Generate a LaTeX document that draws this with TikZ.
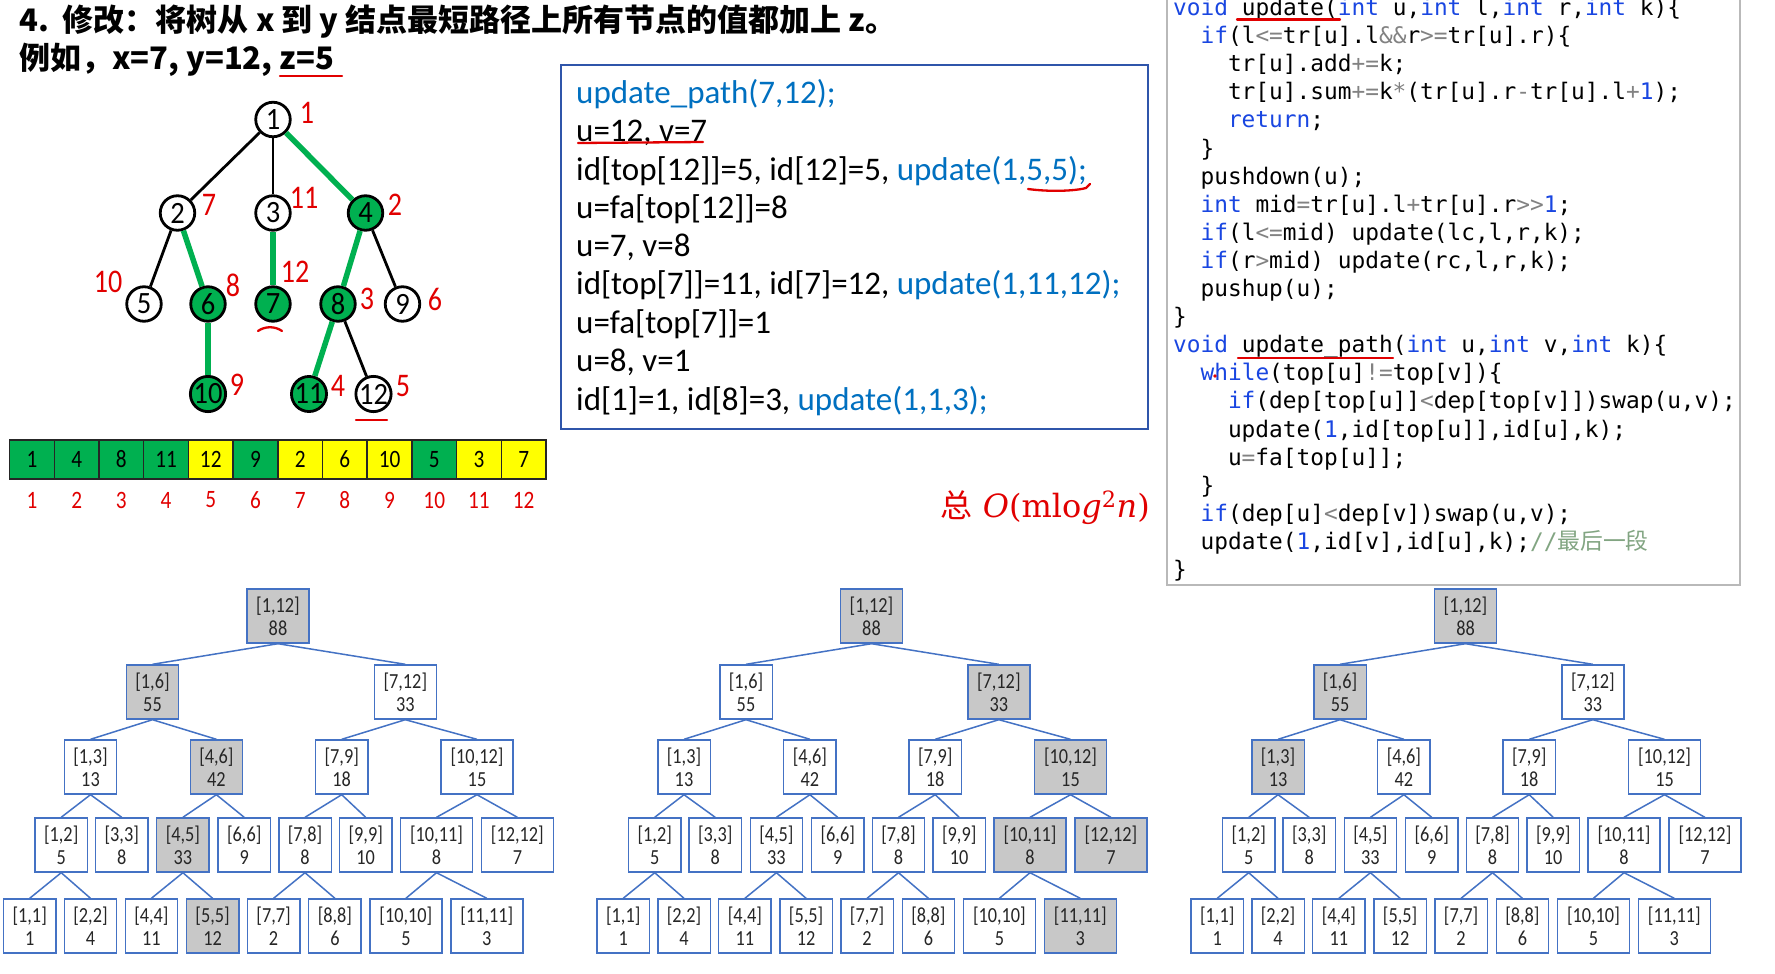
\documentclass[tikz,border=0pt]{standalone}
\usepackage{fontspec}
\newfontfamily\cjk{Noto Sans CJK SC}
\newfontfamily\carl{Carlito}
\newfontfamily\carln{Carlito}[FakeStretch=0.85]
\newfontfamily\carlm{Carlito}[FakeStretch=0.92]
\newfontfamily\codefont{DejaVu Sans Mono}
\newfontfamily\cplxfont{DejaVu Serif}
\definecolor{segblue}{RGB}{68,114,196}
\definecolor{boxblue}{RGB}{47,85,170}
\definecolor{seggray}{RGB}{200,200,200}
\definecolor{tg}{RGB}{0,176,80}
\definecolor{ty}{RGB}{255,255,0}
\definecolor{tred}{RGB}{225,0,0}
\definecolor{codeblue}{RGB}{0,112,192}
\definecolor{kwblue}{RGB}{25,70,225}
\definecolor{opgray}{RGB}{130,130,130}
\definecolor{comgreen}{RGB}{130,165,130}
\definecolor{codegray}{RGB}{185,185,185}
\newcommand\ckw[1]{\textcolor{kwblue}{#1}}
\newcommand\cop[1]{\textcolor{opgray}{#1}}
\newcommand\ccom[1]{\textcolor{comgreen}{#1}}
\newcommand\hlset[2]{\expandafter\def\csname hl@#1@#2\endcsname{}}
\hlset{a}{1-12}\hlset{a}{1-6}\hlset{a}{4-6}\hlset{a}{4-5}\hlset{a}{5-5}
\hlset{b}{1-12}\hlset{b}{7-12}\hlset{b}{10-12}\hlset{b}{10-11}\hlset{b}{12-12}\hlset{b}{11-11}
\hlset{c}{1-12}\hlset{c}{1-6}\hlset{c}{1-3}
\tikzset{
  segbox/.style={draw=segblue,line width=1.4pt,minimum height=54pt,inner sep=0pt,align=center,
    text=black!85,font=\carln\fontsize{21.5}{23}\selectfont},
  segline/.style={draw=segblue,line width=1.5pt},
  cnode/.style={circle,draw=black,line width=2.8pt,minimum size=34.5pt,inner sep=0pt,
    fill=white,font=\carlm\fontsize{31}{31}\selectfont},
  gnode/.style={cnode,fill=tg},
  tedge/.style={draw=black,line width=2.8pt},
  gedge/.style={draw=tg,line width=5.5pt},
  rlab/.style={text=tred,inner sep=0pt,font=\carln\fontsize{33}{33}\selectfont},
  cell/.style={draw=black!85,line width=1.5pt,minimum width=44.7pt,minimum height=39pt,inner sep=0pt,
    font=\carln\fontsize{25}{25}\selectfont},
  idx/.style={text=tred,inner sep=0pt,font=\carln\fontsize{25}{25}\selectfont},
  mtxt/.style={anchor=base west,inner sep=0pt,font=\carl\fontsize{33}{33}\selectfont},
  ctxt/.style={anchor=base west,inner sep=0pt,font=\codefont\fontsize{22.8}{22.8}\selectfont},
  redline/.style={draw=tred,line width=2.3pt,line cap=round},
}
\newcommand\segnd[6]{%
  \ifcsname hl@#1@#2\endcsname\def\segfill{seggray}\else\def\segfill{white}\fi
  \node[segbox,minimum width=#5pt,fill=\segfill] (#1#2) at (#3,#4) {#6};}
\newcommand\segtree[2]{%
\begin{scope}[xshift=#2pt]
\segnd{#1}{1-12}{278}{616}{62}{[1,12]\\88}
\segnd{#1}{1-6}{152.5}{692}{52.4}{[1,6]\\55}
\segnd{#1}{7-12}{405.3}{692}{62}{[7,12]\\33}
\segnd{#1}{1-3}{90.5}{767}{52.4}{[1,3]\\13}
\segnd{#1}{4-6}{216.4}{767}{52.4}{[4,6]\\42}
\segnd{#1}{7-9}{341.7}{767}{52.4}{[7,9]\\18}
\segnd{#1}{10-12}{477}{767}{72}{[10,12]\\15}
\segnd{#1}{1-2}{61.2}{845}{52.4}{[1,2]\\5}
\segnd{#1}{3-3}{121.7}{845}{52.4}{[3,3]\\8}
\segnd{#1}{4-5}{182.9}{845}{52.4}{[4,5]\\33}
\segnd{#1}{6-6}{244.2}{845}{52.4}{[6,6]\\9}
\segnd{#1}{7-8}{305}{845}{52.4}{[7,8]\\8}
\segnd{#1}{9-9}{365.7}{845}{52.4}{[9,9]\\10}
\segnd{#1}{10-11}{436.5}{845}{72}{[10,11]\\8}
\segnd{#1}{12-12}{517.4}{845}{72}{[12,12]\\7}
\segnd{#1}{1-1}{29.7}{926}{52.4}{[1,1]\\1}
\segnd{#1}{2-2}{90.5}{926}{52.4}{[2,2]\\4}
\segnd{#1}{4-4}{151.4}{926}{52.4}{[4,4]\\11}
\segnd{#1}{5-5}{212.6}{926}{52.4}{[5,5]\\12}
\segnd{#1}{7-7}{273.6}{926}{52.4}{[7,7]\\2}
\segnd{#1}{8-8}{334.9}{926}{52.4}{[8,8]\\6}
\segnd{#1}{10-10}{405.9}{926}{72}{[10,10]\\5}
\segnd{#1}{11-11}{486.8}{926}{72}{[11,11]\\3}
\foreach \p/\c in {1-12/1-6,1-12/7-12,1-6/1-3,1-6/4-6,7-12/7-9,7-12/10-12,
  1-3/1-2,1-3/3-3,4-6/4-5,4-6/6-6,7-9/7-8,7-9/9-9,10-12/10-11,10-12/12-12,
  1-2/1-1,1-2/2-2,4-5/4-4,4-5/5-5,7-8/7-7,7-8/8-8,10-11/10-10,10-11/11-11}
  {\draw[segline] (#1\p.south) -- (#1\c.north);}
\end{scope}}
\begin{document}
\begin{tikzpicture}[x=1pt,y=-1pt]
\useasboundingbox (0,0) rectangle (1775,974);
\fill[white] (0,0) rectangle (1775,974);
% title
\node[anchor=base west,inner sep=0pt,font=\cjk\bfseries\fontsize{31}{31}\selectfont] (t1) at (19,31.5)
  {4.\hspace{14pt}修改：将树从 x 到 y 结点最短路径上所有节点的值都加上 z。};
\node[anchor=base west,inner sep=0pt,font=\cjk\bfseries\fontsize{31}{31}\selectfont] (t2) at (19,70)
  {例如，x=7, y=12, z=5};
\draw[redline] (280,76) -- (342,76);
% tree
\node[cnode] (n1) at (273,119.5) {1};
\node[cnode] (n2) at (177.5,213) {2};
\node[cnode] (n3) at (273,213) {3};
\node[gnode] (n4) at (365.5,213) {4};
\node[cnode] (n5) at (144,304) {5};
\node[gnode] (n6) at (208,304) {6};
\node[gnode] (n7) at (273,304) {7};
\node[gnode] (n8) at (338,304) {8};
\node[cnode] (n9) at (402.5,304) {9};
\node[gnode] (n10) at (208,394) {10};
\node[gnode] (n11) at (309,394) {11};
\node[cnode] (n12) at (373.5,394) {12};
\draw[tedge] (n1) -- (n2);
\draw[tedge] (n1) -- (n3);
\draw[gedge] (n1) -- (n4);
\draw[tedge] (n2) -- (n5);
\draw[gedge] (n2) -- (n6);
\draw[gedge] (n3) -- (n7);
\draw[gedge] (n4) -- (n8);
\draw[tedge] (n4) -- (n9);
\draw[gedge] (n6) -- (n10);
\draw[gedge] (n8) -- (n11);
\draw[tedge] (n8) -- (n12);
\node[rlab] (l1) at (307,113) {1};
\node[rlab] (l2) at (209,205) {7};
\node[rlab] (l3) at (304,198) {11};
\node[rlab] (l4) at (395,205) {2};
\node[rlab] (l5) at (108,282) {10};
\node[rlab] (l6) at (233,285) {8};
\node[rlab] (l7) at (295,272) {12};
\node[rlab] (l8) at (367,299) {3};
\node[rlab] (l9) at (435,299) {6};
\node[rlab] (l10) at (237,385) {9};
\node[rlab] (l11) at (338,386) {4};
\node[rlab] (l12) at (403,386) {5};
\draw[redline] (258,331) .. controls (265,326) and (275,326) .. (282,331);
\draw[redline] (356,420) -- (387,420);
% array
\foreach \v/\c [count=\i] in {1/tg,4/tg,8/tg,11/tg,12/ty,9/tg,2/ty,6/ty,10/ty,5/tg,3/ty,7/ty}{
  \node[cell,fill=\c] (c\i) at ({9.6+44.7*(\i-0.5)},459.5) {\v};
  \node[idx] (i\i) at ({9.6+44.7*(\i-0.5)},500) {\i};
}
% middle box
\node[draw=boxblue,line width=2pt,minimum width=587pt,minimum height=364pt,inner sep=0pt] (mbox) at (854.5,247) {};
\node[mtxt,text=codeblue] (m1) at (576,103) {update\_path(7,12);};
\node[mtxt] (m2) at (576,141) {u=12, v=7};
\node[mtxt] (m3) at (576,180) {id[top[12]]=5, id[12]=5, \textcolor{codeblue}{update(1,5,5);}};
\node[mtxt] (m4) at (576,218) {u=fa[top[12]]=8};
\node[mtxt] (m5) at (576,256) {u=7, v=8};
\node[mtxt] (m6) at (576,294) {id[top[7]]=11, id[7]=12, \textcolor{codeblue}{update(1,11,12);}};
\node[mtxt] (m7) at (576,333) {u=fa[top[7]]=1};
\node[mtxt] (m8) at (576,371) {u=8, v=1};
\node[mtxt] (m9) at (576,410) {id[1]=1, id[8]=3, \textcolor{codeblue}{update(1,1,3);}};
\draw[redline] (578,143) -- (703,142);
\draw[redline] (1028,189) .. controls (1050,192) and (1075,191) .. (1086,188) -- (1090,184);
\node[anchor=base east,text=tred,inner sep=0pt,font=\cplxfont\fontsize{32}{32}\selectfont] (cplx) at (1150,517)
  {{\cjk 总} \textit{O}(mlo\textit{g}\textsuperscript{2}\textit{n})};
% code box
\draw[codegray,line width=1.5pt] (1167,-10) rectangle (1740,585);
\node[ctxt] (k1) at (1173,15.5) {\ckw{void} update(\ckw{int} u,\ckw{int} l,\ckw{int} r,\ckw{int} k)\{};
\node[ctxt] (k2) at (1200.4,43.6) {\ckw{if}(l\cop{<=}tr[u].l\cop{\&\&}r\cop{>=}tr[u].r)\{};
\node[ctxt] (k3) at (1227.8,71.7) {tr[u].add\cop{+=}k;};
\node[ctxt] (k4) at (1227.8,99.8) {tr[u].sum\cop{+=}k\cop{*}(tr[u].r\cop{-}tr[u].l\cop{+}\ckw{1});};
\node[ctxt] (k5) at (1227.8,127.9) {\ckw{return};};
\node[ctxt] (k6) at (1200.4,156) {\}};
\node[ctxt] (k7) at (1200.4,184.1) {pushdown(u);};
\node[ctxt] (k8) at (1200.4,212.2) {\ckw{int} mid\cop{=}tr[u].l\cop{+}tr[u].r\cop{>>}\ckw{1};};
\node[ctxt] (k9) at (1200.4,240.3) {\ckw{if}(l\cop{<=}mid) update(lc,l,r,k);};
\node[ctxt] (k10) at (1200.4,268.4) {\ckw{if}(r\cop{>}mid) update(rc,l,r,k);};
\node[ctxt] (k11) at (1200.4,296.5) {pushup(u);};
\node[ctxt] (k12) at (1173,324.6) {\}};
\node[ctxt] (k13) at (1173,352.7) {\ckw{void} update\_path(\ckw{int} u,\ckw{int} v,\ckw{int} k)\{};
\node[ctxt] (k14) at (1200.4,380.8) {\ckw{while}(top[u]\cop{!=}top[v])\{};
\node[ctxt] (k15) at (1227.8,408.9) {\ckw{if}(dep[top[u]]\cop{<}dep[top[v]])swap(u,v);};
\node[ctxt] (k16) at (1227.8,437) {update(\ckw{1},id[top[u]],id[u],k);};
\node[ctxt] (k17) at (1227.8,465.1) {u\cop{=}fa[top[u]];};
\node[ctxt] (k18) at (1200.4,493.2) {\}};
\node[ctxt] (k19) at (1200.4,521.3) {\ckw{if}(dep[u]\cop{<}dep[v])swap(u,v);};
\node[ctxt] (k20) at (1200.4,549.4) {update(\ckw{1},id[v],id[u],k);\ccom{//{\cjk 最后一段}}};
\node[ctxt] (k21) at (1173,577.5) {\}};
\draw[redline] (1237,19.5) -- (1340,19.5);
\draw[redline] (1238,358) -- (1393,358);
\fill[tred] (1215,376) circle (1.8);
% segment trees
\segtree{a}{0}
\segtree{b}{593.5}
\segtree{c}{1187.5}
\end{tikzpicture}
\end{document}
